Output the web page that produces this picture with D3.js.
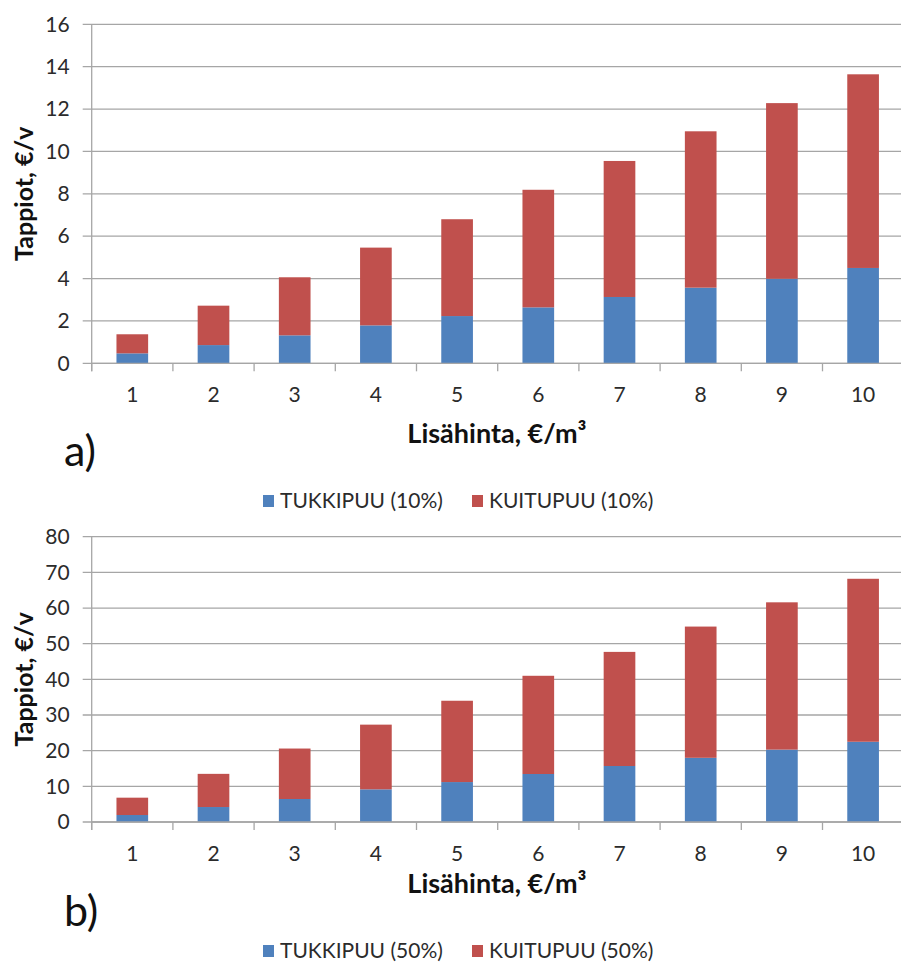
<!DOCTYPE html>
<html>
<head>
<meta charset="utf-8">
<script src="https://cdn.jsdelivr.net/npm/d3@7/dist/d3.min.js"></script>
<style>
  html, body { margin: 0; padding: 0; background: #ffffff; }
  svg { display: block; font-family: Lato, "Open Sans", sans-serif; }
</style>
</head>
<body>
<svg id="chart" width="901" height="972"></svg>
<script>
// ---- data ----
const categories = ["1","2","3","4","5","6","7","8","9","10"];

const tukkipuu10 = [0.47, 0.86, 1.32, 1.79, 2.23, 2.64, 3.13, 3.57, 3.99, 4.50];
const kuitupuu10 = [0.90, 1.86, 2.74, 3.67, 4.57, 5.55, 6.42, 7.38, 8.29, 9.14];

const tukkipuu50 = [1.96, 4.20, 6.45, 9.16, 11.2, 13.46, 15.7, 18.0, 20.3, 22.5];
const kuitupuu50 = [4.86, 9.30, 14.15, 18.14, 22.8, 27.54, 32.0, 36.8, 41.3, 45.7];

const yTicksA = [0, 2, 4, 6, 8, 10, 12, 14, 16];
const yTicksB = [0, 10, 20, 30, 40, 50, 60, 70, 80];

const seriesNamesA = ["TUKKIPUU (10%)", "KUITUPUU (10%)"];
const seriesNamesB = ["TUKKIPUU (50%)", "KUITUPUU (50%)"];
const colors = ["#4F81BD", "#C0504D"];

const yTitle = "Tappiot,  €/v";
const xTitle = "Lisähinta, €/m³";

// ---- drawing ----
const svg = d3.select("#chart");
const gridColor = "#a6a6a6";

function drawPanel(cfg) {
  const left = 91.7, right = 903.7;
  const g = svg.append("g");

  const xAxisBand = d3.scaleBand().domain(categories).range([left, right]).padding(0);
  const xBar = d3.scaleBand().domain(categories).range([left, right])
    .paddingInner(0.61).paddingOuter(0.305);
  const y = d3.scaleLinear().domain([0, cfg.yMax]).range([cfg.bottom, cfg.top]);

  // gridlines
  g.append("g").selectAll("line").data(cfg.yTicks).join("line")
    .attr("x1", left - 9).attr("x2", right)
    .attr("y1", d => y(d)).attr("y2", d => y(d))
    .attr("stroke", gridColor).attr("stroke-width", 1.3);

  // y axis labels
  const ya = g.append("g").attr("transform", `translate(${left},0)`)
    .call(d3.axisLeft(y).tickValues(cfg.yTicks).tickSize(0).tickPadding(22));
  ya.select(".domain").remove();
  ya.selectAll("text").attr("font-size", 21).attr("fill", "#2b2b2b")
    .attr("font-family", "Lato, sans-serif");

  // stacked bars
  const rows = categories.map((c, i) => ({ cat: c, a: cfg.s1[i], b: cfg.s2[i] }));
  const stacked = d3.stack().keys(["a", "b"])(rows);
  g.append("g").selectAll("g").data(stacked).join("g")
    .attr("fill", (d, i) => colors[i])
    .selectAll("rect").data(d => d).join("rect")
    .attr("x", d => xBar(d.data.cat))
    .attr("width", xBar.bandwidth())
    .attr("y", d => y(d[1]))
    .attr("height", d => y(d[0]) - y(d[1]));

  // axis lines
  g.append("line").attr("x1", left).attr("x2", left)
    .attr("y1", cfg.top).attr("y2", cfg.bottom + 8)
    .attr("stroke", gridColor).attr("stroke-width", 1.3);
  g.append("line").attr("x1", left).attr("x2", right)
    .attr("y1", cfg.bottom).attr("y2", cfg.bottom)
    .attr("stroke", gridColor).attr("stroke-width", 1.3);
  // x ticks at category boundaries
  const bounds = categories.map(c => xAxisBand(c)).concat([right]);
  g.append("g").selectAll("line").data(bounds).join("line")
    .attr("x1", d => d).attr("x2", d => d)
    .attr("y1", cfg.bottom).attr("y2", cfg.bottom + 8)
    .attr("stroke", gridColor).attr("stroke-width", 1.3);

  // x labels
  g.append("g").selectAll("text").data(categories).join("text")
    .attr("x", d => xAxisBand(d) + xAxisBand.bandwidth() / 2)
    .attr("y", cfg.bottom + 39)
    .attr("text-anchor", "middle").attr("font-size", 21).attr("fill", "#2b2b2b")
    .text(d => d);

  // y title
  g.append("text")
    .attr("transform", `translate(33,${(cfg.top + cfg.bottom) / 2}) rotate(-90)`)
    .attr("text-anchor", "middle").attr("font-size", 25).attr("font-weight", "bold")
    .attr("fill", "#111")
    .text(yTitle);

  // x title
  g.append("text")
    .attr("x", 497).attr("y", cfg.xTitleY)
    .attr("text-anchor", "middle").attr("font-size", 27).attr("font-weight", "bold")
    .attr("fill", "#111")
    .text(xTitle);

  // panel label
  g.append("text")
    .attr("x", 64).attr("y", cfg.panelY)
    .attr("font-size", 43).attr("fill", "#111")
    .text(cfg.panel);

  // legend
  const leg = g.append("g");
  const items = [
    { x: 263, name: cfg.names[0], color: colors[0] },
    { x: 472, name: cfg.names[1], color: colors[1] }
  ];
  items.forEach(it => {
    leg.append("rect").attr("x", it.x).attr("y", cfg.legendY - 13)
      .attr("width", 11).attr("height", 12).attr("fill", it.color);
    leg.append("text").attr("x", it.x + 17).attr("y", cfg.legendY)
      .attr("font-size", 21).attr("fill", "#2b2b2b").text(it.name);
  });
}

drawPanel({
  top: 24.3, bottom: 363.3, yMax: 16, yTicks: yTicksA,
  s1: tukkipuu10, s2: kuitupuu10, names: seriesNamesA,
  xTitleY: 443, panelY: 466, panel: "a)", legendY: 508
});

drawPanel({
  top: 536.7, bottom: 822, yMax: 80, yTicks: yTicksB,
  s1: tukkipuu50, s2: kuitupuu50, names: seriesNamesB,
  xTitleY: 893, panelY: 926, panel: "b)", legendY: 958
});
</script>
</body>
</html>
